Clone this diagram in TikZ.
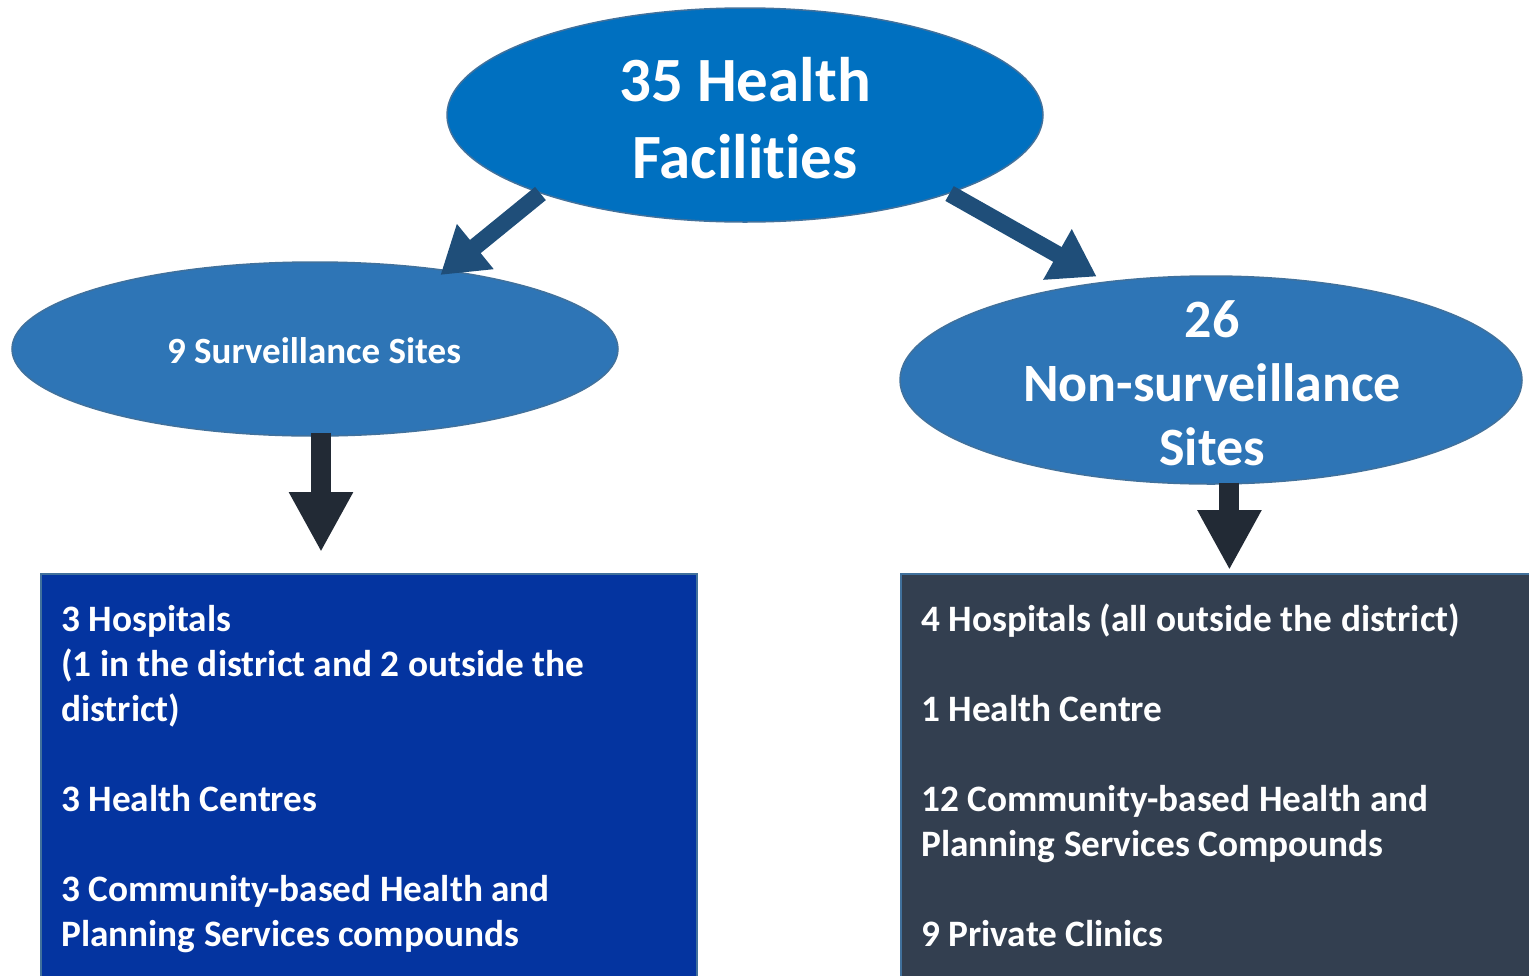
\documentclass[tikz,border=0pt]{standalone}
\usepackage{fontspec}
\setmainfont{Carlito}[Ligatures=NoCommon]
\usetikzlibrary{shapes.geometric,arrows.meta}

\definecolor{topfill}{HTML}{0070C0}
\definecolor{sitefill}{HTML}{2E75B6}
\definecolor{sitebd}{HTML}{41719C}
\definecolor{survfill}{HTML}{0434A0}
\definecolor{nonfill}{HTML}{333F50}
\definecolor{toparrow}{HTML}{1F4E79}
\definecolor{downarrow}{HTML}{222A35}

\tikzset{
  site/.style={ellipse, draw=sitebd, line width=1.5pt, fill=sitefill, inner sep=0pt},
  sitetext/.style={text=white, align=center, inner sep=0pt},
  listbox/.style={draw=sitebd, line width=2pt, minimum width=656pt, minimum height=440pt,
    anchor=north west, inner sep=0pt},
  listtext/.style={text=white, font=\fontsize{37.3}{45}\selectfont\bfseries, align=left,
    anchor=base west, inner sep=0pt},
  toparrow/.style={draw=toparrow, line width=17pt, -{Triangle[width=55pt,length=45pt]}},
  downarrow/.style={draw=downarrow, line width=20pt, -{Triangle[width=60pt,length=60pt]}},
}

\begin{document}
\begin{tikzpicture}[x=1pt,y=-1pt]
\useasboundingbox (0,0) rectangle (1529,975);

%% ellipses
\node[site, fill=topfill, minimum width=596pt, minimum height=214pt] (all) at (745,115) {};
\node[site, minimum width=606pt, minimum height=174pt] (surv) at (315,349) {};
\node[site, minimum width=622pt, minimum height=208pt] (non) at (1211,380) {};

\node[sitetext, font=\fontsize{63}{77}\selectfont\bfseries] (alltxt) at (745,118) {35 Health\\Facilities};
\node[sitetext, font=\fontsize{37}{44}\selectfont\bfseries] (survtxt) at (314,351) {9 Surveillance Sites};
\node[sitetext, font=\fontsize{54}{64}\selectfont\bfseries] (nontxt) at (1212,383) {26\\Non-surveillance\\Sites};

%% boxes
\node[listbox, fill=survfill] (survbox) at (40,573) {};
\node[listbox, fill=nonfill, minimum width=700pt] (nonbox) at (900,573) {};

%% lists (anchored on the last baseline)
\node[listtext] (survlist) at (61,946) {3 Hospitals\\(1 in the district and 2 outside the\\district)\\[45pt]3 Health Centres\\[45pt]3 Community-based Health and\\Planning Services compounds};
\node[listtext] (nonlist) at (921,946) {4 Hospitals (all outside the district)\\[45pt]1 Health Centre\\[45pt]12 Community-based Health and\\Planning Services Compounds\\[45pt]9 Private Clinics};

%% arrows
\draw[toparrow, shorten >=-8pt] (all.201) -- (surv.31);
\draw[toparrow, shorten >=10pt] (all.339) -- (non.137);
\draw[downarrow, shorten <=-4pt, shorten >=21pt] ([xshift=6pt]surv.south) -- ([xshift=6pt]surv.south |- survbox.north);
\draw[downarrow, shorten <=-2pt, shorten >=3pt] (non.-80) -- (non.-80 |- nonbox.north);
\end{tikzpicture}
\end{document}
